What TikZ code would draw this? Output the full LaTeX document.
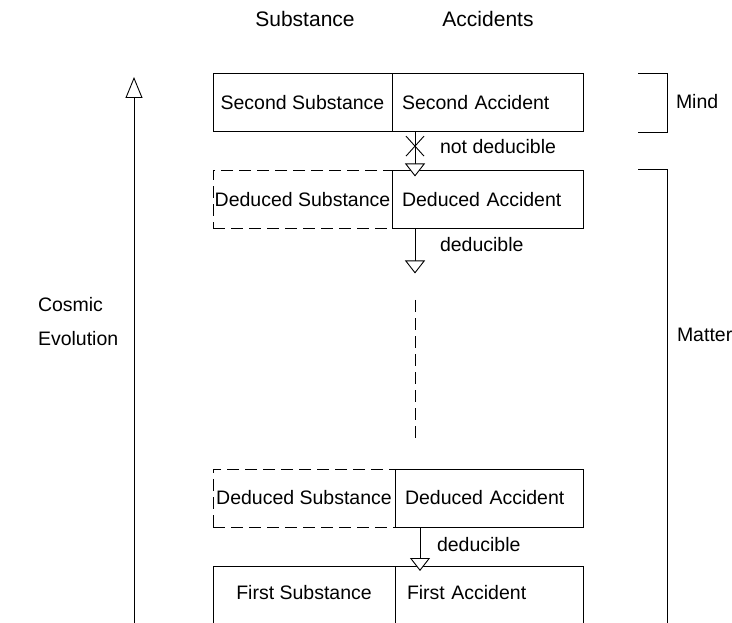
\documentclass[tikz,border=0pt]{standalone}
\usepackage{fontspec}
\setsansfont{Liberation Sans}
\usetikzlibrary{
  arrows.meta,
  positioning
}

\begin{document}
\begin{tikzpicture}[
  x=1pt, y=-1pt,
  line width=0.9pt,
  every node/.style={font=\sffamily\fontsize{19.5}{23}\selectfont, inner sep=0, outer sep=0},
  head/.style={font=\sffamily\fontsize{21}{25}\selectfont},
  subst/.style={draw, minimum height=58pt, inner xsep=1pt},
  guess/.style={subst, dash pattern=on 12pt off 6pt},
  acc/.style={draw, minimum height=58pt, inner xsep=10pt, text width=#1, align=left},
  lbl/.style={anchor=west},
  >={Triangle[width=20pt, length=13pt, fill=white]}
]
\useasboundingbox (0,0) rectangle (732,623);
\clip (0,0) rectangle (732,623);

% Column heads
\node[head] (subhead) at (305,19) {Substance};
\node[head] (acchead) at (488,19) {Accidents};

% Second row
\node[subst, minimum width=179pt] (secsub) at (302.5,102.5) {Second Substance};
\node[acc=171pt, right=0pt of secsub] (secacc) {Second Accident};

% Deduced rows
\node[guess, minimum width=179pt] (dedsub) at (302.5,199.5) {Deduced Substance};
\node[acc=171pt, right=0pt of dedsub] (dedacc) {Deduced Accident};

\node[guess, minimum width=182pt] (dedsubb) at (304,498) {Deduced Substance};
\node[acc=168pt, right=0pt of dedsubb] (dedaccb) {Deduced Accident};

% First row (open at the bottom)
\node[minimum width=182pt, minimum height=54pt] (firstsub) at (304,593) {First Substance};
\node[minimum height=54pt, inner xsep=12pt, text width=164pt, align=left,
      right=0pt of firstsub] (firstacc) {First Accident};
\draw (firstsub.south west) ++(0,40) |- (firstacc.north east) -- ++(0,70);
\draw (firstacc.north west) -- ++(0,70);

% Deduction arrows
\draw[->, shorten >=-6pt] ([xshift=23pt]secacc.south west)
  -- coordinate[pos=0.375] (cut) ([xshift=23pt]dedacc.north west);
\draw ([shift={(-9,-10)}]cut) -- ([shift={(9,10)}]cut)
      ([shift={(-9,10)}]cut) -- ([shift={(9,-10)}]cut);
\node[lbl, right=25pt of cut] (notded) {not deducible};

\draw[->] ([xshift=23pt]dedacc.south west) -- ++(0,45) coordinate (dedend);
\node[lbl] (dedlbl) at (440,245) {deducible};

\coordinate (gaptop) at (415,300);
\coordinate (gapbot) at (415,438);
\draw[dash pattern=on 12pt off 6pt] (gaptop) -- (gapbot);

\draw[->, shorten >=-5pt] ([xshift=25pt]dedaccb.south west) -- ([xshift=25pt]firstacc.north west);
\node[lbl] (dedlblb) at (437,545) {deducible};

% Cosmic evolution
\coordinate (evobot) at (134,640);
\coordinate (evotop) at (134,77);
\draw[-{Triangle[width=17pt, length=21pt, fill=white]}] (evobot) -- (evotop);
\node[align=left, anchor=west, font=\sffamily\fontsize{19.5}{34}\selectfont] (cosmic) at (38,322) {Cosmic\\Evolution};

% Mind / Matter brackets
\draw (638,73) -| (667,132) -- (638,132);
\node[lbl] (mind) at (676,102) {Mind};
\draw (638,169) -| (667,640);
\node[lbl] (matter) at (677,335) {Matter};

\end{tikzpicture}
\end{document}
